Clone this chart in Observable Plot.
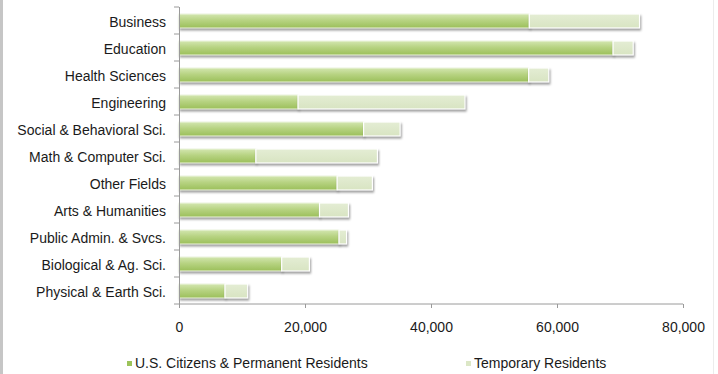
<!DOCTYPE html>
<html>
<head>
<meta charset="utf-8">
<script src="https://cdn.jsdelivr.net/npm/d3@7"></script>
<script src="https://cdn.jsdelivr.net/npm/@observablehq/plot@0.6"></script>
<style>
  html, body { margin: 0; padding: 0; background: #fff; }
  #wrap { position: relative; width: 718px; height: 374px; overflow: hidden;
          font-family: "Liberation Sans", Arial, sans-serif; color: #1a1a1a; }
  #wrap::before { content: ""; position: absolute; left: 0; top: 0; bottom: 0; width: 3px; background: #c6c6c6; }
  #wrap::after { content: ""; position: absolute; left: 713px; top: 0; bottom: 0; width: 1px; background: #ececec; }
  #chart { position: absolute; left: 0; top: 0; }
  #chart g[aria-label="bar"] { filter: drop-shadow(1px 2px 1px rgba(0,0,0,0.38)); }
  .item { position: absolute; top: 355px; display: flex; align-items: center; white-space: nowrap; font-size: 14px; line-height: 16px; }
  .sw { width: 5px; height: 5px; margin-right: 3px; }
</style>
</head>
<body>
<div id="wrap">
  <div id="chart"></div>
  <div id="legend"></div>
</div>
<script>
// Graduate enrollment by field, split by residency status
const fields = [
  "Business",
  "Education",
  "Health Sciences",
  "Engineering",
  "Social & Behavioral Sci.",
  "Math & Computer Sci.",
  "Other Fields",
  "Arts & Humanities",
  "Public Admin. & Svcs.",
  "Biological & Ag. Sci.",
  "Physical & Earth Sci."
];
const citizens  = [55600, 68900, 55500, 18900, 29300, 12200, 25100, 22300, 25400, 16300, 7300];
const temporary = [17500,  3200,  3200, 26500,  5800, 19300,  5600,  4600,  1200,  4400, 3600];
const xTicks = [0, 20000, 40000, 60000, 80000];
const seriesNames = ["U.S. Citizens & Permanent Residents", "Temporary Residents"];
const seriesColors = ["#9cc35a", "#dce7c6"];

const rows = fields.map((field, i) => ({
  field,
  us: citizens[i],
  total: citizens[i] + temporary[i]
}));

const fmt = d3.format(",");

const chart = Plot.plot({
  width: 718,
  height: 340,
  marginTop: 7,
  marginBottom: 36,
  marginLeft: 179,
  marginRight: 35,
  style: {
    fontFamily: "'Liberation Sans', Arial, sans-serif",
    fontSize: "14px",
    color: "#1a1a1a",
    background: "transparent",
    overflow: "visible"
  },
  x: { domain: [0, 80000], ticks: xTicks, tickFormat: fmt },
  y: { domain: fields, padding: 0, label: null },
  marks: [
    Plot.barX(rows, {
      y: "field", x1: () => 0, x2: "us",
      fill: "url(#gradUS)", stroke: "#eef5e0", strokeWidth: 1,
      insetTop: 7, insetBottom: 6
    }),
    Plot.barX(rows, {
      y: "field", x1: "us", x2: "total",
      fill: "url(#gradTmp)", stroke: "#ffffff", strokeWidth: 1.2,
      insetTop: 7, insetBottom: 6
    }),
    Plot.ruleX([0], { stroke: "#9a9a9a", strokeWidth: 1 }),
    Plot.axisY({ tickSize: 0, tickPadding: 13.5, dy: 1.5, label: null, fill: "#1a1a1a" }),
    Plot.axisX({
      ticks: xTicks, tickFormat: fmt, tickSize: 4, tickPadding: 14,
      label: null, stroke: "#9a9a9a", fill: "#1a1a1a"
    })
  ]
});

document.getElementById("chart").appendChild(chart);

// Gradients for the bar fills
const svg = d3.select(chart);
const defs = svg.insert("defs", ":first-child");
const gUS = defs.append("linearGradient").attr("id", "gradUS")
  .attr("x1", 0).attr("y1", 0).attr("x2", 0).attr("y2", 1);
gUS.append("stop").attr("offset", "0%").attr("stop-color", "#d3e6b0");
gUS.append("stop").attr("offset", "45%").attr("stop-color", "#b7d382");
gUS.append("stop").attr("offset", "100%").attr("stop-color", "#9bbf5a");
const gT = defs.append("linearGradient").attr("id", "gradTmp")
  .attr("x1", 0).attr("y1", 0).attr("x2", 0).attr("y2", 1);
gT.append("stop").attr("offset", "0%").attr("stop-color", "#e4edd4");
gT.append("stop").attr("offset", "100%").attr("stop-color", "#d8e4c2");

// Category boundary ticks and the baseline, placed with the plot's own scales
const xs = chart.scale("x");
const ys = chart.scale("y");
const bw = ys.bandwidth;
const x0 = xs.apply(0);
const bounds = fields.map(f => ys.apply(f)).concat([ys.apply(fields[fields.length - 1]) + bw]);
const g = svg.append("g").attr("stroke", "#9a9a9a").attr("stroke-width", 1);
g.selectAll("line.b").data(bounds).join("line")
  .attr("x1", x0 - 5).attr("x2", x0)
  .attr("y1", d => d).attr("y2", d => d);
const yBase = ys.apply(fields[fields.length - 1]) + bw;
g.append("line")
  .attr("x1", x0).attr("x2", xs.apply(80000))
  .attr("y1", yBase).attr("y2", yBase);

// Legend below the chart
const legend = document.getElementById("legend");
const legendLeft = [127, 466];
seriesNames.forEach((name, i) => {
  const item = document.createElement("div");
  item.className = "item";
  item.style.left = legendLeft[i] + "px";
  const sw = document.createElement("span");
  sw.className = "sw";
  sw.style.background = seriesColors[i];
  const label = document.createElement("span");
  label.textContent = name;
  item.appendChild(sw);
  item.appendChild(label);
  legend.appendChild(item);
});
</script>
</body>
</html>
